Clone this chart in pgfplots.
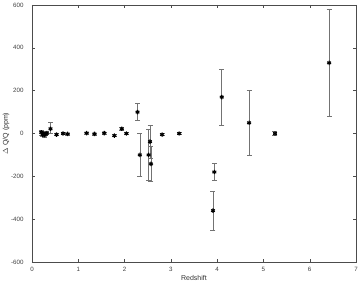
\documentclass[border=0pt]{standalone}
\usepackage{pgfplots}
\pgfplotsset{compat=1.18}
\usepackage{fontspec}
\setmainfont{Liberation Sans}
\begin{document}
\begin{tikzpicture}
\begin{axis}[
  scale only axis, width=324pt, height=257pt,
  xmin=0, xmax=7, ymin=-600, ymax=600,
  xtick={0,1,...,7}, ytick={-600,-400,...,600},
  tick align=inside, major tick length=3pt,
  tick style={black!70, line width=0.4pt},
  axis line style={black!70, line width=0.5pt},
  tick label style={font=\fontsize{6.2}{7}\selectfont, text=black!75},
  yticklabel style={xshift=-5pt},
  xticklabel style={yshift=-2pt},
  /pgf/number format/assume math mode=true,
  xlabel={Redshift}, ylabel={$\Delta$ Q/Q (ppm)},
  label style={font=\fontsize{7}{8}\selectfont, text=black!80},
  xlabel style={yshift=3pt},
  ylabel style={at={(axis description cs:-0.08,0.5)}, anchor=center},
  ticklabel style={/pgf/number format/fixed},
  scaled ticks=false,
]
\addplot[only marks, mark=asterisk, mark size=2.2pt, mark options={line width=1.1pt, black},
  error bars/.cd, y dir=both, y explicit,
  error bar style={black!55, line width=0.6pt},
  error mark options={rotate=90, mark size=2.5pt, black!55, line width=0.6pt}]
table[x=z, y=v, y error plus=ep, y error minus=em] {
z v ep em
0.20 5 12 12
0.23 -5 10 10
0.25 0 8 8
0.27 -8 8 8
0.30 -3 6 6
0.32 2 6 6
0.40 22 28 22
0.53 -5 5 5
0.67 0 5 5
0.77 -2 5 5
1.18 2 5 5
1.35 -2 5 5
1.56 2 5 5
1.78 -10 5 5
1.94 22 5 5
2.04 0 5 5
2.28 100 40 40
2.33 -100 100 100
2.52 -100 120 120
2.55 -38 78 78
2.57 -142 80 80
2.81 -5 5 5
3.18 0 5 5
3.91 -360 90 90
3.94 -180 40 40
4.10 170 130 130
4.69 50 150 150
5.25 0 8 8
6.42 330 250 250
};
\end{axis}
\pgfresetboundingbox
\path (-32pt,-23pt) rectangle (328pt,262pt);
\end{tikzpicture}
\end{document}
